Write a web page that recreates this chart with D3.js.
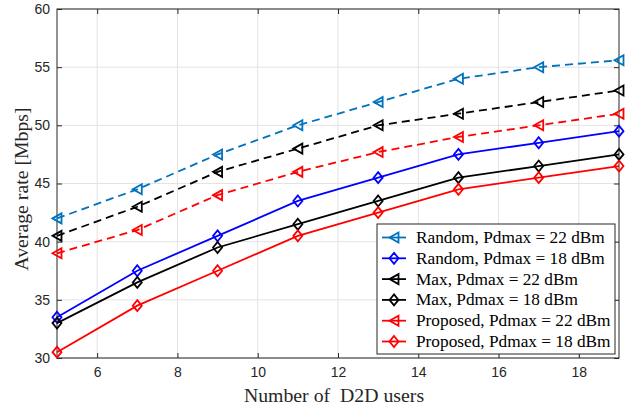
<!DOCTYPE html>
<html>
<head>
<meta charset="utf-8">
<script src="https://cdn.jsdelivr.net/npm/d3@7"></script>
<style>
  body { margin: 0; background: #fff; }
  svg { display: block; }
</style>
</head>
<body>
<div id="chart"></div>
<script>
// number of D2D users
var users = [5, 7, 9, 11, 13, 15, 17, 19];

var random22 = [42, 44.5, 47.5, 50, 52, 54, 55, 55.6];
var random18 = [33.5, 37.5, 40.5, 43.5, 45.5, 47.5, 48.5, 49.5];
var max22 = [40.5, 43, 46, 48, 50, 51, 52, 53];
var max18 = [33, 36.5, 39.5, 41.5, 43.5, 45.5, 46.5, 47.5];
var proposed22 = [39, 41, 44, 46, 47.7, 49, 50, 51];
var proposed18 = [30.5, 34.5, 37.5, 40.5, 42.5, 44.5, 45.5, 46.5];

var xTicks = [6, 8, 10, 12, 14, 16, 18];
var yTicks = [30, 35, 40, 45, 50, 55, 60];

var series = [
  {name: "Random, Pdmax = 22 dBm", values: random22, color: "#0072BD", dashed: true, marker: "tri"},
  {name: "Random, Pdmax = 18 dBm", values: random18, color: "#0000FF", dashed: false, marker: "dia"},
  {name: "Max, Pdmax = 22 dBm", values: max22, color: "#000000", dashed: true, marker: "tri"},
  {name: "Max, Pdmax = 18 dBm", values: max18, color: "#000000", dashed: false, marker: "dia"},
  {name: "Proposed, Pdmax = 22 dBm", values: proposed22, color: "#FF0000", dashed: true, marker: "tri"},
  {name: "Proposed, Pdmax = 18 dBm", values: proposed18, color: "#FF0000", dashed: false, marker: "dia"}
];

var width = 629, height = 409;
var margin = {left: 57, top: 9, right: 10, bottom: 51};
var w = width - margin.left - margin.right;
var h = height - margin.top - margin.bottom;

var svg = d3.select("#chart").append("svg")
  .attr("width", width)
  .attr("height", height);

var x = d3.scaleLinear().domain([5, 19]).range([0, w]);
var y = d3.scaleLinear().domain([30, 60]).range([h, 0]);

var g = svg.append("g").attr("transform", "translate(" + margin.left + "," + margin.top + ")");

// grid
g.selectAll(".vgrid").data(xTicks).enter().append("line")
  .attr("x1", function(d){ return x(d); }).attr("x2", function(d){ return x(d); })
  .attr("y1", 0).attr("y2", h)
  .attr("stroke", "#e3e3e3").attr("stroke-width", 1);
g.selectAll(".hgrid").data(yTicks).enter().append("line")
  .attr("y1", function(d){ return y(d); }).attr("y2", function(d){ return y(d); })
  .attr("x1", 0).attr("x2", w)
  .attr("stroke", "#e3e3e3").attr("stroke-width", 1);

// axes (ticks inward, box on all sides)
var axisColor = "#262626";
function styleAxis(sel) {
  sel.select(".domain").remove();
  sel.selectAll(".tick line").attr("stroke", axisColor);
  sel.selectAll(".tick text")
    .attr("fill", axisColor)
    .style("font-family", "'Liberation Sans', Arial, sans-serif")
    .style("font-size", "14px");
}

g.append("g").attr("transform", "translate(0," + h + ")")
  .call(d3.axisBottom(x).tickValues(xTicks).tickSizeInner(-5).tickSizeOuter(0).tickPadding(9))
  .call(styleAxis);
g.append("g").attr("transform", "translate(0,0)")
  .call(d3.axisTop(x).tickValues(xTicks).tickSizeInner(-5).tickSizeOuter(0).tickFormat(""))
  .call(styleAxis);
g.append("g")
  .call(d3.axisLeft(y).tickValues(yTicks).tickSizeInner(-5).tickSizeOuter(0).tickPadding(7))
  .call(styleAxis);
g.append("g").attr("transform", "translate(" + w + ",0)")
  .call(d3.axisRight(y).tickValues(yTicks).tickSizeInner(-5).tickSizeOuter(0).tickFormat(""))
  .call(styleAxis);

g.append("rect")
  .attr("x", 0).attr("y", 0).attr("width", w).attr("height", h)
  .attr("fill", "none").attr("stroke", axisColor).attr("stroke-width", 1);

// markers
function markerPath(type) {
  if (type == "tri") {
    return "M-4.5,0L4.5,-5L4.5,5Z";
  }
  return "M0,-5.5L4.5,0L0,5.5L-4.5,0Z";
}

var line = d3.line()
  .x(function(d){ return x(d[0]); })
  .y(function(d){ return y(d[1]); });

series.forEach(function(s) {
  var pts = users.map(function(u, i){ return [u, s.values[i]]; });
  g.append("path")
    .datum(pts)
    .attr("d", line)
    .attr("fill", "none")
    .attr("stroke", s.color)
    .attr("stroke-width", 1.8)
    .attr("stroke-dasharray", s.dashed ? "8,5" : null);
  g.selectAll(null).data(pts).enter().append("path")
    .attr("d", markerPath(s.marker))
    .attr("transform", function(d){ return "translate(" + x(d[0]) + "," + y(d[1]) + ")"; })
    .attr("fill", "none")
    .attr("stroke", s.color)
    .attr("stroke-width", 1.8);
});

// axis labels
svg.append("text")
  .attr("x", 334)
  .attr("y", 402)
  .attr("text-anchor", "middle")
  .attr("fill", axisColor)
  .style("font-family", "'Liberation Serif', 'Times New Roman', serif")
  .style("font-size", "19.8px")
  .style("white-space", "pre")
  .text("Number of  D2D users");

svg.append("text")
  .attr("transform", "translate(28,189) rotate(-90)")
  .attr("text-anchor", "middle")
  .attr("fill", axisColor)
  .style("font-family", "'Liberation Serif', 'Times New Roman', serif")
  .style("font-size", "19.8px")
  .text("Average rate [Mbps]");

// legend
var lx = 377, ly = 224, lw = 238, lh = 130, rowH = 20.8;
var legend = svg.append("g");
legend.append("rect")
  .attr("x", lx).attr("y", ly).attr("width", lw).attr("height", lh)
  .attr("fill", "#fff").attr("stroke", axisColor).attr("stroke-width", 1);

var items = legend.selectAll(".item").data(series).enter().append("g")
  .attr("transform", function(d, i){ return "translate(" + lx + "," + (ly + 13.5 + i * rowH) + ")"; });
items.append("line")
  .attr("x1", 5).attr("x2", 29).attr("y1", 0).attr("y2", 0)
  .attr("stroke", function(d){ return d.color; })
  .attr("stroke-width", 1.8);
items.append("path")
  .attr("d", function(d){ return markerPath(d.marker); })
  .attr("transform", "translate(17,0)")
  .attr("fill", "none")
  .attr("stroke", function(d){ return d.color; })
  .attr("stroke-width", 1.8);
items.append("text")
  .attr("x", 39).attr("y", 5.5)
  .attr("fill", "#000")
  .style("font-family", "'Liberation Serif', 'Times New Roman', serif")
  .style("font-size", "17.3px")
  .text(function(d){ return d.name; });
</script>
</body>
</html>
